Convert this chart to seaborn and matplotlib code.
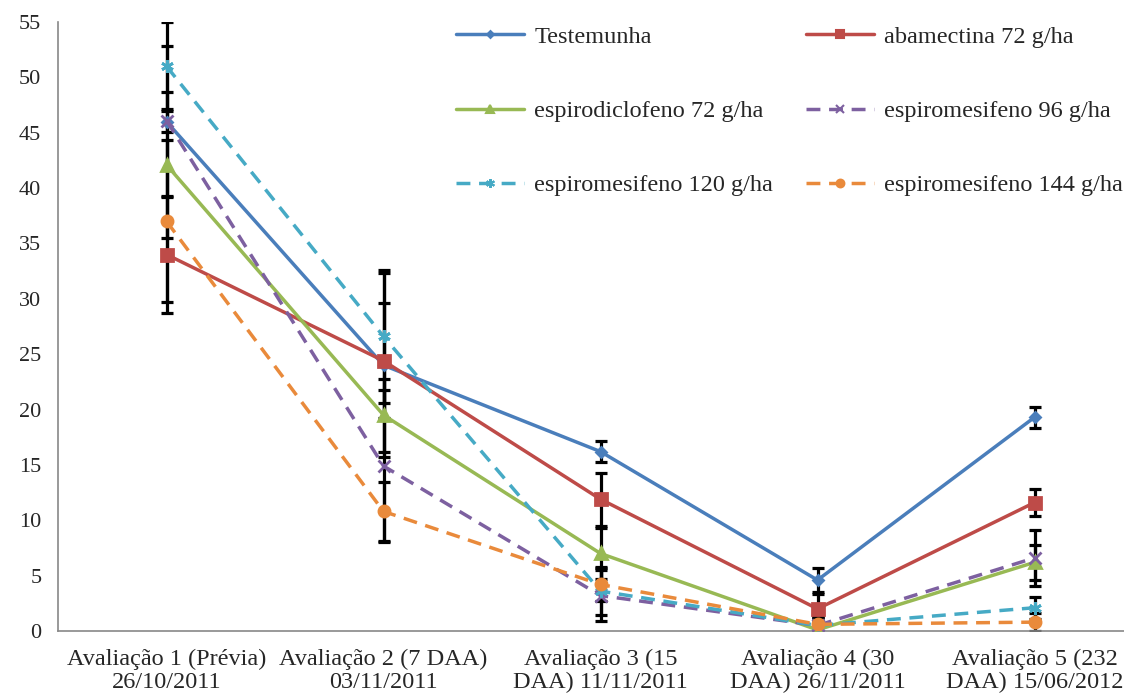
import matplotlib
matplotlib.use("Agg")
import matplotlib.pyplot as plt
import seaborn as sns
import pandas as pd
import numpy as np
from matplotlib.lines import Line2D

categories = ["Avaliação 1 (Prévia)\n26/10/2011", "Avaliação 2 (7 DAA)\n03/11/2011",
              "Avaliação 3 (15\nDAA) 11/11/2011", "Avaliação 4 (30\nDAA) 26/11/2011",
              "Avaliação 5 (232\nDAA) 15/06/2012"]
series_names = ["Testemunha", "abamectina 72 g/ha", "espirodiclofeno 72 g/ha",
                "espiromesifeno 96 g/ha", "espiromesifeno 120 g/ha", "espiromesifeno 144 g/ha"]

testemunha = [46.0, 24.0, 16.2, 4.6, 19.3]
abamectina = [34.0, 24.4, 11.9, 2.0, 11.6]
espirodiclofeno = [42.1, 19.5, 7.0, 0.1, 6.2]
espiromesifeno96 = [46.1, 14.9, 3.2, 0.5, 6.6]
espiromesifeno120 = [51.0, 26.6, 3.6, 0.5, 2.1]
espiromesifeno144 = [37.0, 10.8, 4.2, 0.6, 0.8]

err_testemunha = [6.8, 8.3, 0.95, 1.1, 0.95]
err_abamectina = [5.3, 5.2, 2.4, 1.3, 1.2]
err_espirodiclofeno = [6.6, 3.3, 2.3, 0.8, 1.6]
err_espiromesifeno96 = [1.0, 6.9, 2.3, 0.8, 2.5]
err_espiromesifeno120 = [4.0, 6.0, 2.2, 0.8, 1.0]
err_espiromesifeno144 = [7.3, 2.7, 1.5, 0.6, 0.8]

values = [testemunha, abamectina, espirodiclofeno, espiromesifeno96, espiromesifeno120, espiromesifeno144]
errors = [err_testemunha, err_abamectina, err_espirodiclofeno, err_espiromesifeno96,
          err_espiromesifeno120, err_espiromesifeno144]

colors = ["#4A7EBB", "#BE4B48", "#98B954", "#7D60A0", "#46AAC5", "#E98A3B"]
markers = ["D", "s", "^", "x", (6, 2, 0), "o"]
msizes = [5, 8, 8, 8, 9, 8]
dashed = [False, False, False, True, True, True]

sns.set_theme(style="white")
plt.rcParams["font.family"] = ["Liberation Serif", "DejaVu Serif"]

fig = plt.figure(figsize=(11.24, 6.97), dpi=100)
ax = fig.add_axes([58 / 1124, 66 / 697, 1085 / 1124, 609 / 697])

x = np.arange(len(categories))

# error bars first (black)
for vals, errs in zip(values, errors):
    ax.errorbar(x, vals, yerr=errs, fmt="none", ecolor="black", elinewidth=2.3,
                capsize=4.2, capthick=2.3, zorder=2)

for name, vals, c, m, ms, d in zip(series_names, values, colors, markers, msizes, dashed):
    df = pd.DataFrame({"x": x, "y": vals})
    n_before = len(ax.get_lines())
    sns.lineplot(data=df, x="x", y="y", color=c, linewidth=2.5, ax=ax, zorder=3)
    line = ax.get_lines()[n_before]
    if d:
        line.set_linestyle((0, (4, 2.5)))
    line.set_marker(m)
    line.set_markersize(ms)
    line.set_markerfacecolor(c)
    line.set_markeredgecolor(c)
    line.set_markeredgewidth(2.0)

ax.set_xlim(-0.5, 4.5)
ax.set_ylim(0, 55)
ax.set_yticks(np.arange(0, 56, 5))
ax.set_xticks(x)
ax.set_xticklabels(categories, fontsize=17.5, linespacing=1.1)
ax.set_xticks(np.arange(-0.5, 4.6, 1), minor=True)
ax.tick_params(axis="x", which="major", length=0, pad=13)
ax.tick_params(axis="x", which="minor", length=6, color="#888888", width=1, direction="out")
ax.tick_params(axis="y", which="major", length=6, color="#888888", width=1, direction="out",
               labelsize=16, pad=6)
ax.set_xlabel("")
ax.set_ylabel("")
for s in ["top", "right"]:
    ax.spines[s].set_visible(False)
for s in ["left", "bottom"]:
    ax.spines[s].set_color("#888888")
    ax.spines[s].set_linewidth(1.2)
ax.grid(False)

handles = []
for n, c, m, d, ms in zip(series_names, colors, markers, dashed, msizes):
    h = Line2D([0], [0], color=c, lw=2.5, marker=m, markersize=ms * 0.7,
               markerfacecolor=c, markeredgecolor=c, markeredgewidth=1.5,
               linestyle=(0, (4, 2.5)) if d else "-")
    handles.append(h)
order = [0, 2, 4, 1, 3, 5]
leg = fig.legend(handles=[handles[i] for i in order], labels=[series_names[i] for i in order],
                 ncol=2, frameon=False,
                 loc="upper left", bbox_to_anchor=(434 / 1124, 1 - 4 / 697),
                 fontsize=17.5, handlelength=2.8, handletextpad=0.42,
                 labelspacing=2.15, columnspacing=1.35)

fig.savefig("out.png", dpi=100)
